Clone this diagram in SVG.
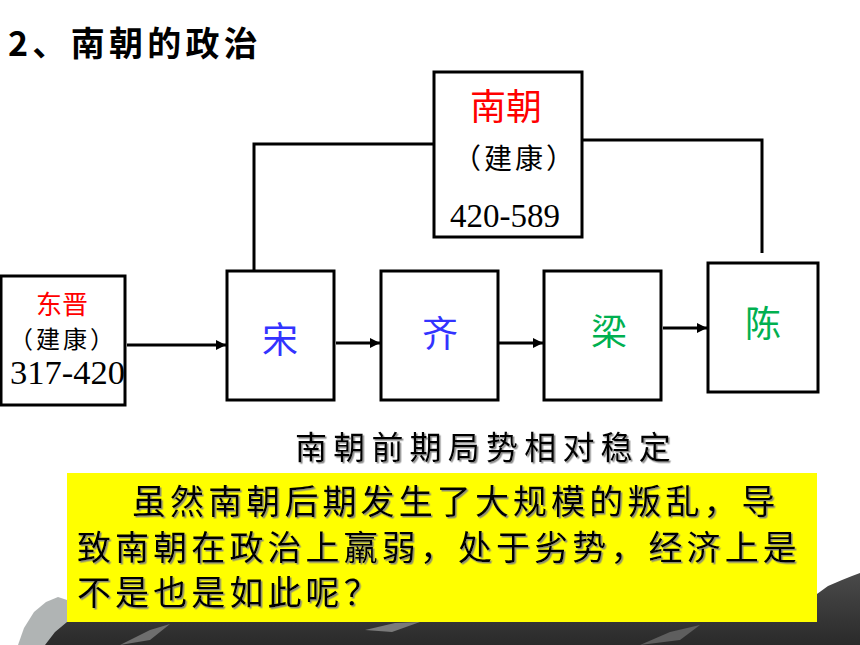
<svg xmlns="http://www.w3.org/2000/svg" width="860" height="645" viewBox="0 0 860 645">
  <defs>
    <style>
      .box { fill: #ffffff; stroke: #000000; stroke-width: 3; }
      .cjk { font-family: "Noto Sans CJK SC", "Noto Sans", sans-serif; }
      .num { font-family: "Liberation Serif", "DejaVu Serif", serif; fill: #000000; }
      .line { fill: none; stroke: #000000; stroke-width: 3; }
      .arrow { fill: none; stroke: #000000; stroke-width: 3; marker-end: url(#ah); }
      .red { fill: #ff0000; }
      .blue { fill: #3333ff; }
      .green { fill: #00b050; }
      .shadowed { filter: url(#sh); }
    </style>
    <marker id="ah" viewBox="0 0 10 10" refX="10" refY="5" markerWidth="10" markerHeight="10" markerUnits="userSpaceOnUse" orient="auto">
      <path d="M0,0 L10,5 L0,10 Z" fill="#000000"/>
    </marker>
    <filter id="sh" x="-5%" y="-20%" width="110%" height="140%">
      <feDropShadow dx="1.5" dy="1.5" stdDeviation="0.3" flood-color="#808080" flood-opacity="0.9"/>
    </filter>
    <linearGradient id="ink" x1="0" y1="0" x2="0" y2="1">
      <stop offset="0" stop-color="#4a4a4a"/>
      <stop offset="1" stop-color="#2a2a2a"/>
    </linearGradient>
  </defs>

  <rect x="0" y="0" width="860" height="645" fill="#ffffff"/>

  <!-- ink wash background -->
  <g id="background">
    <path d="M18 645 L24 628 L34 612 L46 602 L58 597 L67 600 L67 645 Z" fill="#b0b4b4"/>
    <path d="M45 645 L55 632 L67 622 L817 622 L817 594 L828 586 L842 580 L852 576 L860 573 L860 645 Z" fill="url(#ink)"/>
    <path d="M120 645 L150 630 L170 624 L150 640 Z" fill="#6e6e6e"/>
    <path d="M365 630 L395 623 L420 622 L392 632 Z" fill="#7a7a7a"/>
    <path d="M640 645 L670 632 L700 625 L680 640 Z" fill="#5e5e5e"/>
  </g>

  <g id="title">
    <text class="cjk" x="8" y="56" font-size="34" font-weight="bold" letter-spacing="4.3" fill="#000000">2、南朝的政治</text>
  </g>

  <g id="connectors">
    <polyline class="line" points="254,271 254,144 434,144"/>
    <polyline class="line" points="582,140 762,140 762,253"/>
    <line class="arrow" x1="127" y1="345" x2="226" y2="345"/>
    <line class="arrow" x1="336" y1="343" x2="380" y2="343"/>
    <line class="arrow" x1="499" y1="343" x2="543" y2="343"/>
    <line class="arrow" x1="663" y1="328" x2="707" y2="328"/>
  </g>

  <g id="node-nanchao">
    <rect class="box" x="434" y="72" width="148" height="165"/>
    <text class="cjk red" x="506" y="120" font-size="36" text-anchor="middle">南朝</text>
    <text class="cjk" x="515" y="169" font-size="28" letter-spacing="3" text-anchor="middle" fill="#000000">（建康）</text>
    <text class="num" x="505" y="227" font-size="33" text-anchor="middle">420-589</text>
  </g>

  <g id="node-dongjin">
    <rect class="box" x="1" y="276" width="124" height="129"/>
    <text class="cjk red" x="62" y="314" font-size="26" text-anchor="middle">东晋</text>
    <text class="cjk" x="63" y="348" font-size="24" letter-spacing="3" text-anchor="middle" fill="#000000">（建康）</text>
    <text class="num" x="10" y="384" font-size="33" textLength="115" lengthAdjust="spacingAndGlyphs">317-420</text>
  </g>

  <g id="node-song">
    <rect class="box" x="227" y="271" width="107" height="129"/>
    <text class="cjk blue" x="280" y="353" font-size="36" text-anchor="middle">宋</text>
  </g>

  <g id="node-qi">
    <rect class="box" x="381" y="271" width="117" height="129"/>
    <text class="cjk blue" x="440" y="347" font-size="36" text-anchor="middle">齐</text>
  </g>

  <g id="node-liang">
    <rect class="box" x="544" y="271" width="117" height="129"/>
    <text class="cjk green" x="609" y="345" font-size="36" text-anchor="middle">梁</text>
  </g>

  <g id="node-chen">
    <rect class="box" x="708" y="263" width="110" height="129"/>
    <text class="cjk green" x="763" y="337" font-size="36" text-anchor="middle">陈</text>
  </g>

  <g id="caption">
    <text class="cjk shadowed" x="295" y="459" font-size="32" letter-spacing="6.2" fill="#000000">南朝前期局势相对稳定</text>
  </g>

  <g id="question">
    <rect x="67" y="473" width="750" height="149" fill="#ffff00"/>
    <g class="cjk shadowed" font-size="34" fill="#000000" letter-spacing="4.1">
      <text x="132" y="514">虽然南朝后期发生了大规模的叛乱，导</text>
      <text x="77" y="560">致南朝在政治上羸弱，处于劣势，经济上是</text>
      <text x="77" y="605">不是也是如此呢？</text>
    </g>
  </g>
</svg>
